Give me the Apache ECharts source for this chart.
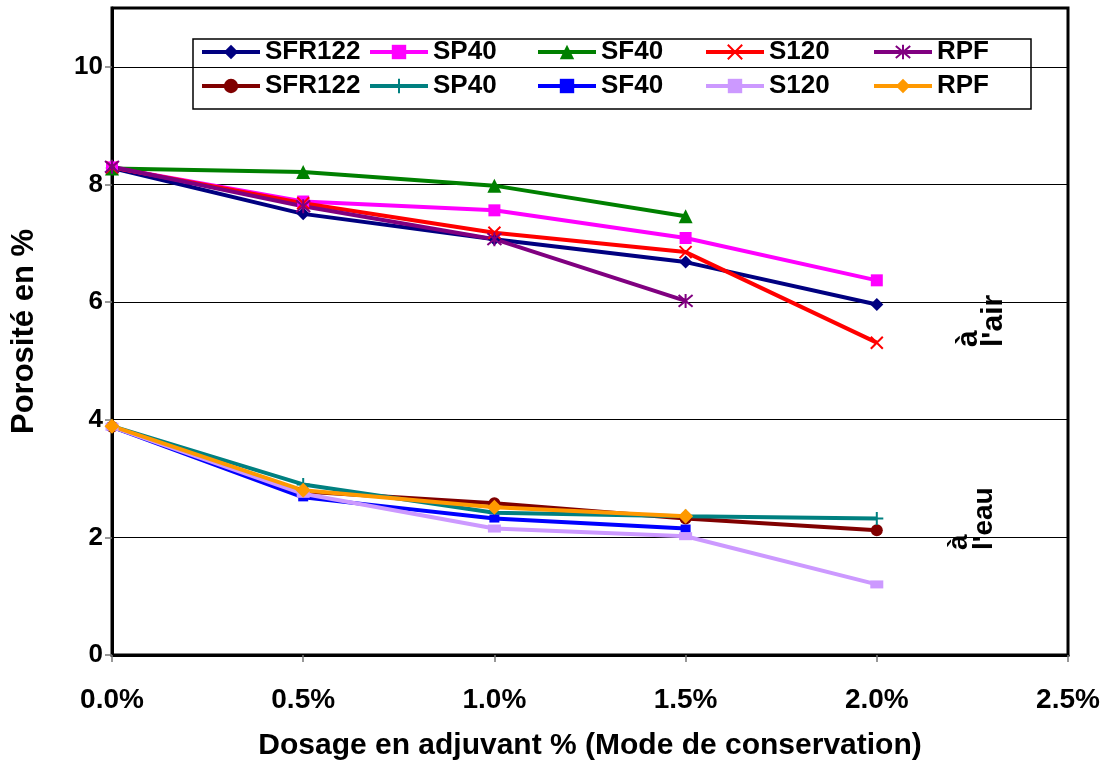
<!DOCTYPE html>
<html>
<head>
<meta charset="utf-8">
<script src="https://cdn.jsdelivr.net/npm/echarts@6/dist/echarts.min.js"></script>
<style>html,body{margin:0;padding:0;background:#fff;}#c{width:1111px;height:767px;}</style>
</head>
<body>
<div id="c"></div>
<script>
const xs = [0, 0.5, 1.0, 1.5, 2.0];
const airSFR122 = [8.28, 7.50, 7.07, 6.68, 5.96];
const airSP40 = [8.29, 7.71, 7.56, 7.09, 6.37];
const airSF40 = [8.27, 8.21, 7.98, 7.46];
const airS120 = [8.29, 7.68, 7.18, 6.85, 5.31];
const airRPF = [8.30, 7.63, 7.07, 6.02];
const waterSFR122 = [3.88, 2.78, 2.58, 2.32, 2.12];
const waterSP40 = [3.89, 2.90, 2.42, 2.36, 2.32];
const waterSF40 = [3.88, 2.68, 2.32, 2.15];
const waterS120 = [3.88, 2.74, 2.15, 2.02, 1.20];
const waterRPF = [3.89, 2.80, 2.51, 2.36];
const names = ['SFR122', 'SP40', 'SF40', 'S120', 'RPF'];
const xTicks = ['0.0%', '0.5%', '1.0%', '1.5%', '2.0%', '2.5%'];
const yTicks = [0, 2, 4, 6, 8, 10];

const FONT = '"Liberation Sans", Arial, sans-serif';
const pts = arr => arr.map((v, i) => [xs[i], v]);
const X_PATH = 'path://M0,0L10,10M10,0L0,10';
const STAR_PATH = 'path://M0,0L10,10M10,0L0,10M5,-1L5,11';
const PLUS_PATH = 'path://M5,0L5,10M0,5L10,5';

function mk(name, data, color, symbol, size, stroke) {
  return {
    name: name, type: 'line', data: pts(data),
    symbol: symbol, symbolSize: size,
    lineStyle: {color: color, width: 4},
    itemStyle: stroke ? {color: color, borderColor: color, borderWidth: 2} : {color: color},
    emphasis: {disabled: true},
    animation: false, z: 3
  };
}

const series = [
  mk(names[0], airSFR122, '#000080', 'diamond', 13),
  mk(names[1], airSP40, '#FF00FF', 'rect', 12),
  mk(names[2], airSF40, '#008000', 'triangle', 14),
  mk(names[3], airS120, '#FF0000', X_PATH, 12, true),
  mk(names[4], airRPF, '#800080', STAR_PATH, 14, true),
  mk(names[0] + ' ', waterSFR122, '#800000', 'circle', 12),
  mk(names[1] + ' ', waterSP40, '#008080', PLUS_PATH, 13, true),
  mk(names[2] + ' ', waterSF40, '#0000FF', 'rect', [10, 8]),
  mk(names[3] + ' ', waterS120, '#CC99FF', 'rect', [13, 8]),
  mk(names[4] + ' ', waterRPF, '#FF9900', 'diamond', 15)
];

// one legend column per material: air series above, water series below
const legends = names.map((n, i) => ({
  left: 200 + i * 168, top: 39,
  orient: 'vertical',
  padding: 0,
  itemGap: 8, itemWidth: 58, itemHeight: 18,
  lineStyle: {width: 4},
  data: [n, n + ' '],
  formatter: s => s.trim(),
  textStyle: {fontFamily: FONT, fontWeight: 'bold', fontSize: 26, color: '#000'},
  selectedMode: false
}));

const chart = echarts.init(document.getElementById('c'), null, {renderer: 'canvas'});
chart.setOption({
  backgroundColor: '#fff',
  animation: false,
  grid: {left: 112, right: 43, top: 8, bottom: 112, show: true, borderColor: '#000', borderWidth: 3, backgroundColor: 'transparent'},
  legend: legends,
  xAxis: {
    type: 'value', min: 0, max: 2.5, interval: 0.5,
    name: 'Dosage en adjuvant % (Mode de conservation)',
    nameLocation: 'middle', nameGap: 76,
    nameTextStyle: {fontFamily: FONT, fontWeight: 'bold', fontSize: 30, color: '#000'},
    axisLine: {show: true, lineStyle: {color: '#000', width: 3}},
    axisTick: {show: true, length: 7, lineStyle: {color: '#777', width: 1.5}},
    axisLabel: {fontFamily: FONT, fontWeight: 'bold', fontSize: 28, color: '#000', margin: 31,
      formatter: v => xTicks[Math.round(v / 0.5)]},
    splitLine: {show: false}
  },
  yAxis: {
    type: 'value', min: 0, max: 11, interval: 2,
    name: 'Porosité en %',
    nameLocation: 'middle', nameGap: 72, nameRotate: 90,
    nameTextStyle: {fontFamily: FONT, fontWeight: 'bold', fontSize: 31, color: '#000'},
    axisLine: {show: true, lineStyle: {color: '#000', width: 3}},
    axisTick: {show: true, length: 7, lineStyle: {color: '#777', width: 1.5}},
    axisLabel: {fontFamily: FONT, fontWeight: 'bold', fontSize: 26, color: '#000', margin: 9,
      showMaxLabel: false,
      formatter: v => (yTicks.indexOf(v) >= 0 ? String(v) : '')},
    splitLine: {show: true, lineStyle: {color: '#000', width: 1}}
  },
  graphic: [
    {type: 'rect', shape: {x: 193, y: 39, width: 838, height: 70}, z: -1, zlevel: 0,
      style: {fill: '#fff', stroke: '#000', lineWidth: 1.5}},
    {type: 'text', x: 956, y: 347, rotation: Math.PI / 2, z: 10,
      style: {text: "à\nl'air", font: 'bold 30px "Liberation Sans", Arial, sans-serif', fill: '#000', textAlign: 'left', textVerticalAlign: 'top', lineHeight: 25}},
    {type: 'text', x: 947, y: 550, rotation: Math.PI / 2, z: 10,
      style: {text: "à\nl'eau", font: 'bold 28px "Liberation Sans", Arial, sans-serif', fill: '#000', textAlign: 'left', textVerticalAlign: 'top', lineHeight: 25}}
  ],
  series: series
});
</script>
</body>
</html>
